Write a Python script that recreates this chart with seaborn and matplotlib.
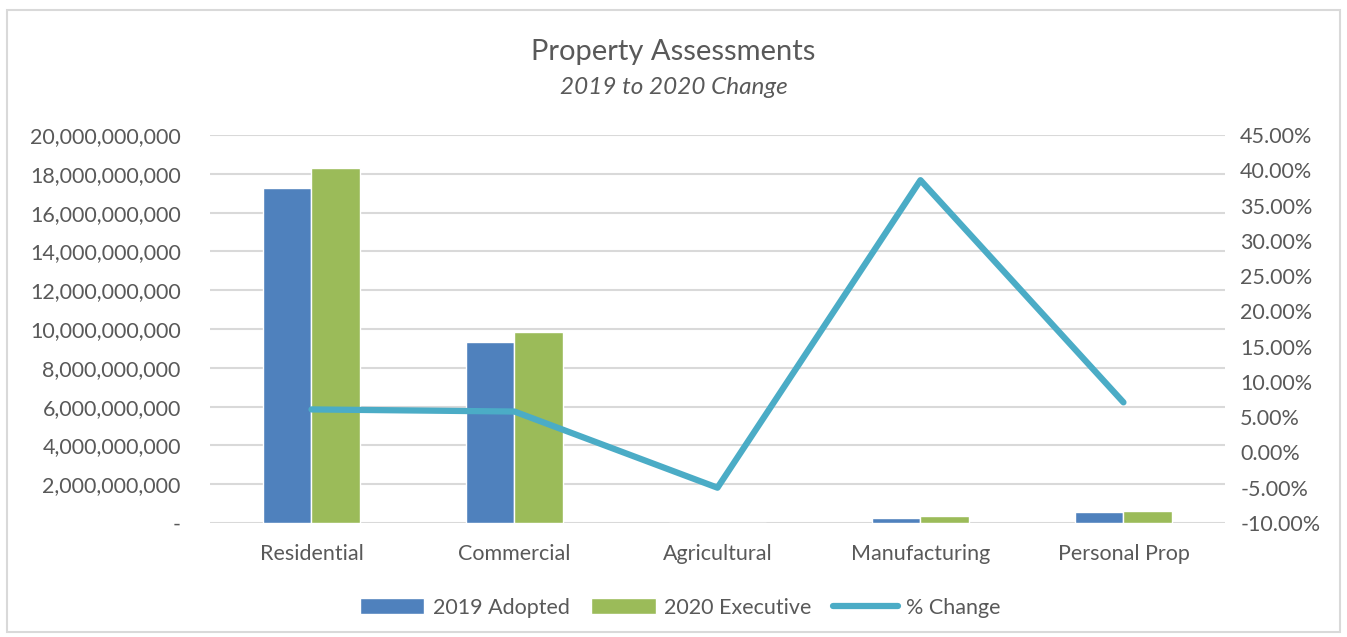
import numpy as np
import pandas as pd
import matplotlib
matplotlib.use("Agg")
import matplotlib.pyplot as plt
import matplotlib.ticker as mticker
from matplotlib.patches import Patch, Rectangle
from matplotlib.lines import Line2D
import seaborn as sns

# data
categories = ["Residential", "Commercial", "Agricultural", "Manufacturing", "Personal Prop"]
adopted_2019 = [17.25e9, 9.31e9, 0.0, 0.26e9, 0.57e9]
executive_2020 = [18.30e9, 9.85e9, 0.0, 0.36e9, 0.61e9]
pct_change = [6.1, 5.8, -5.0, 38.6, 7.1]

series_names = ["2019 Adopted", "2020 Executive"]
bar_colors = ["#4F81BD", "#9BBB59"]
line_color = "#4BACC6"
text_color = "#595959"
grid_color = "#D9D9D9"

df = pd.DataFrame({
    "category": categories * 2,
    "series": [series_names[0]] * len(categories) + [series_names[1]] * len(categories),
    "value": adopted_2019 + executive_2020,
})

sns.set_theme(style="white")
plt.rcParams["font.family"] = ["Lato", "DejaVu Sans"]

fig = plt.figure(figsize=(13.47, 6.37), dpi=100)
ax = fig.add_axes([0.1559, 0.179, 0.7535, 0.609])

sns.barplot(data=df, x="category", y="value", hue="series", order=categories,
            hue_order=series_names, palette=bar_colors, width=0.475, saturation=1,
            ax=ax, legend=False)

ax.set_ylim(0, 20e9)
ax.set_yticks(np.arange(0, 20e9 + 1, 2e9))
ax.yaxis.set_major_formatter(mticker.FuncFormatter(lambda v, p: "-" if v == 0 else f"{v:,.0f}"))
ax.grid(axis="y", color=grid_color, linewidth=1.5)
ax.set_axisbelow(True)
ax.set_xlabel("")
ax.set_ylabel("")
for s in ax.spines.values():
    s.set_visible(False)
ax.tick_params(axis="both", colors=text_color, labelsize=15.5, length=0)
ax.tick_params(axis="y", pad=21)
ax.tick_params(axis="x", pad=15)
ax.set_xlim(-0.5, len(categories) - 0.5)

ax2 = ax.twinx()
sns.lineplot(x=np.arange(len(categories)), y=pct_change, ax=ax2, color=line_color,
             linewidth=4.5, solid_capstyle="round", solid_joinstyle="round")
ax2.set_ylim(-10, 45)
ax2.set_yticks(np.arange(-10, 46, 5))
ax2.yaxis.set_major_formatter(mticker.FuncFormatter(lambda v, p: f"{v:.2f}%"))
for s in ax2.spines.values():
    s.set_visible(False)
ax2.tick_params(axis="y", colors=text_color, labelsize=15.5, length=0, pad=11)
ax2.set_ylabel("")
ax2.set_xlim(-0.5, len(categories) - 0.5)

fig.text(0.5, 0.918, "Property Assessments", ha="center", va="center",
         fontsize=21, color=text_color)
fig.text(0.5, 0.862, "2019 to 2020 Change", ha="center", va="center",
         fontsize=17.5, color=text_color, style="italic")

handles = [Patch(facecolor=bar_colors[0]), Patch(facecolor=bar_colors[1]),
           Line2D([0], [0], color=line_color, linewidth=4.5)]
leg = fig.legend(handles, series_names + ["% Change"], loc="center", ncol=3,
                 bbox_to_anchor=(0.505, 0.046), frameon=False, fontsize=15.5,
                 handlelength=3.0, handleheight=0.8, columnspacing=1.0, handletextpad=0.4)
for t in leg.get_texts():
    t.set_color(text_color)

fig.patches.append(Rectangle((0.005, 0.008), 0.99, 0.977, transform=fig.transFigure,
                             fill=False, edgecolor=grid_color, linewidth=1.5))

fig.savefig("out.png", dpi=100, facecolor="white")
